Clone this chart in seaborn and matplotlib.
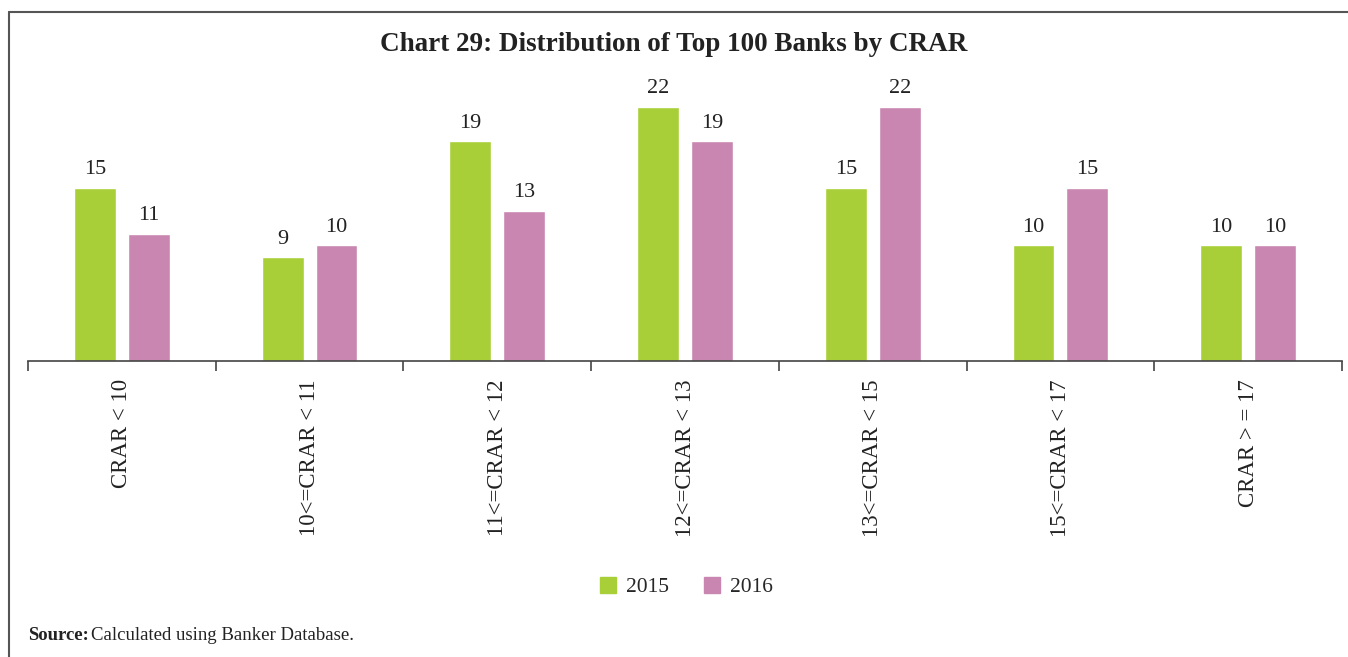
import numpy as np
import pandas as pd
import matplotlib
matplotlib.use("Agg")
import matplotlib.pyplot as plt
import seaborn as sns
from matplotlib.lines import Line2D

categories = ["CRAR < 10", "10<=CRAR < 11", "11<=CRAR < 12", "12<=CRAR < 13",
              "13<=CRAR < 15", "15<=CRAR < 17", "CRAR > = 17"]
years = ["2015", "2016"]
banks_2015 = [15, 9, 19, 22, 15, 10, 10]
banks_2016 = [11, 10, 13, 19, 22, 15, 10]

colors = {"2015": "#A8CF38", "2016": "#C986B0"}

df = pd.DataFrame({
    "category": categories * 2,
    "year": [years[0]] * len(categories) + [years[1]] * len(categories),
    "banks": banks_2015 + banks_2016,
})

sns.set_theme(style="white")
plt.rcParams["font.family"] = ["Liberation Serif", "DejaVu Serif"]

fig = plt.figure(figsize=(13.48, 6.57), dpi=100)
ax = fig.add_axes([0.0208, 0.4505, 0.9748, 0.44])

sns.barplot(data=df, x="category", y="banks", hue="year", order=categories,
            hue_order=years, palette=colors, width=0.574, gap=0.223,
            saturation=1, ax=ax, legend=False)

for cont in ax.containers:
    ax.bar_label(cont, padding=6, fontsize=16, color="#222222")

ax.set_ylim(0, 25)
ax.set_xlim(-0.5, len(categories) - 0.5)
ax.set_xlabel("")
ax.set_ylabel("")
ax.set_yticks([])
for s in ["top", "right", "left"]:
    ax.spines[s].set_visible(False)
ax.spines["bottom"].set_color("#444444")
ax.spines["bottom"].set_linewidth(1.2)

ax.set_xticks(range(len(categories)))
ax.set_xticklabels(categories, rotation=90, fontsize=16.5, color="#222222",
                   va="top")
ax.tick_params(axis="x", which="major", length=0, pad=13)
ax.set_xticks(np.arange(-0.5, len(categories), 1.0), minor=True)
ax.tick_params(axis="x", which="minor", length=7, width=1.2,
               color="#444444", direction="out", bottom=True)

fig.text(0.5, 0.932, "Chart 29: Distribution of Top 100 Banks by CRAR",
         ha="center", va="center", fontsize=19.5, fontweight="bold",
         color="#222222")

handles = [Line2D([0], [0], marker="s", linestyle="", markersize=12,
                  markerfacecolor=colors[y], markeredgecolor=colors[y])
           for y in years]
fig.legend(handles, years, loc="center", bbox_to_anchor=(0.509, 0.106),
           ncol=2, frameon=False, fontsize=15.5, handlelength=0.8,
           handletextpad=0.45, columnspacing=1.6)

fig.text(0.0208, 0.033, "Source:", fontsize=13.5, fontweight="bold",
         color="#222222", ha="left", va="center")
fig.text(0.0675, 0.033, "Calculated using Banker Database.", fontsize=13.5,
         color="#222222", ha="left", va="center")

# frame of the chart box (left and top edges)
fig.add_artist(Line2D([0.0065, 0.0065], [0.0, 0.982], color="#555555",
                      linewidth=1.5, transform=fig.transFigure))
fig.add_artist(Line2D([0.0065, 1.0], [0.982, 0.982], color="#555555",
                      linewidth=1.5, transform=fig.transFigure))

fig.savefig("out.png", dpi=100, facecolor="white")
